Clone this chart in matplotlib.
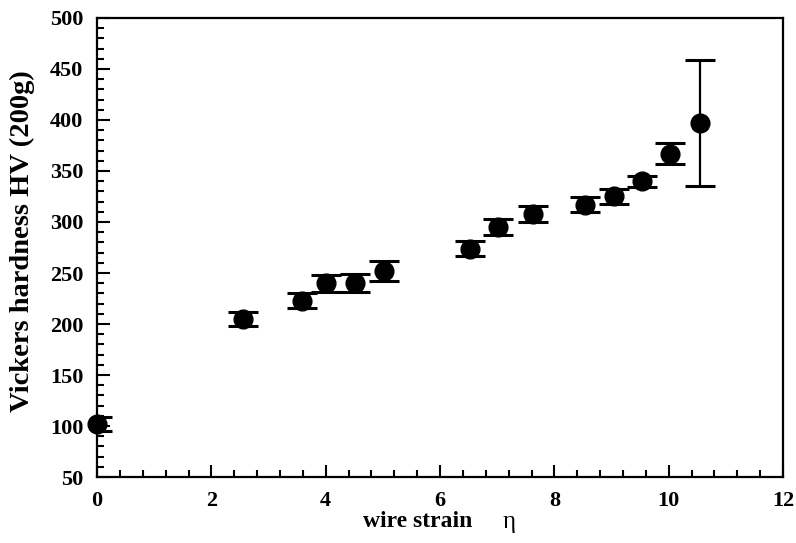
import matplotlib.pyplot as plt
from matplotlib.ticker import MultipleLocator

plt.rcParams['font.family'] = ['Liberation Serif', 'DejaVu Serif']
plt.rcParams['font.weight'] = 'bold'

# wire strain, Vickers hardness and error half-widths
strain = [0.0, 2.55, 3.58, 4.0, 4.51, 5.02, 6.52, 7.01, 7.62, 8.53, 9.04, 9.53, 10.03, 10.54]
hardness = [102, 205, 223, 240, 240, 252, 274, 295, 308, 317, 325, 340, 367, 397]
err = [7, 7, 7, 8.5, 9, 9.5, 7.5, 8, 8, 7.5, 7, 5.5, 10, 62]

fig = plt.figure(figsize=(7.96, 5.43), dpi=100)
ax = fig.add_axes([0.122, 0.1215, 0.8617, 0.8454])

pts, caps, bars = ax.errorbar(strain, hardness, yerr=err, fmt='o', color='black', ms=13.5,
                              elinewidth=1.6, capsize=11, capthick=2.2, zorder=3)
# dots may hang over the left spine, caps are cut there
pts.set_clip_on(False)

ax.set_xlim(0, 12)
ax.set_ylim(50, 500)
ax.xaxis.set_major_locator(MultipleLocator(2))
ax.xaxis.set_minor_locator(MultipleLocator(0.4))
ax.yaxis.set_major_locator(MultipleLocator(50))
ax.yaxis.set_minor_locator(MultipleLocator(10))
ax.tick_params(which='both', direction='in', width=1.5, labelsize=16, top=False, right=False)
ax.tick_params(which='major', length=9, pad=10)
ax.tick_params(which='minor', length=5)
for s in ax.spines.values():
    s.set_linewidth(1.6)

# axis titles placed as figure text
fig.text(0.5245, 0.0387, 'wire strain', fontsize=17, fontweight='bold',
         ha='center', va='center')
fig.text(0.6394, 0.038, 'η', fontsize=18, fontweight='normal',
         ha='center', va='center')
fig.text(0.0276, 0.556, 'Vickers hardness HV (200g)', fontsize=20.5,
         fontweight='bold', rotation=90, ha='center', va='center')

fig.savefig('out.png', dpi=100)
